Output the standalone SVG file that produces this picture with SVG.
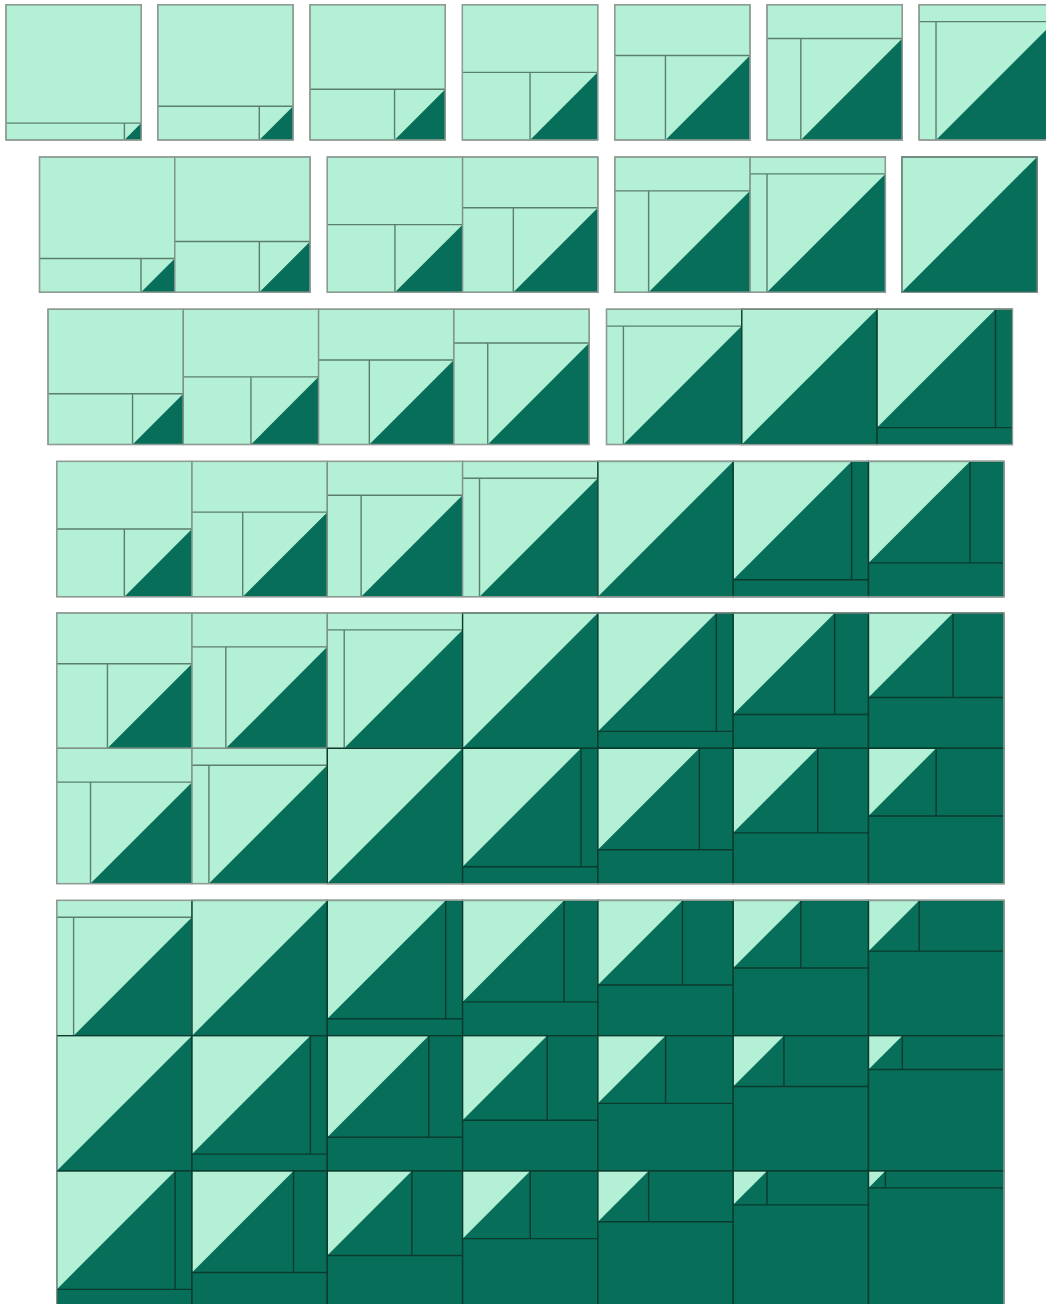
<svg xmlns="http://www.w3.org/2000/svg" width="1046" height="1304" viewBox="0 0 1046 1304">
<style>
.L{fill:#b4f0d6}
.D{fill:#076f59}
.ll{fill:none;stroke:#5a7f6c;stroke-width:1.4}
.dl{fill:none;stroke:#0a3b2e;stroke-width:1.4}
.lb{fill:none;stroke:#7f9288;stroke-width:1.4}
.go{fill:none;stroke:#8f9c95;stroke-width:1.2}
</style>
<defs>
<g id="k1"><rect class="L" width="135.3" height="135.3"/><path class="D" d="M118.39 135.3L135.3 118.39V135.3Z"/><path class="ll" d="M0 118.39H135.3M118.39 118.39V135.3"/><rect class="lb" width="135.3" height="135.3"/></g>
<g id="k2"><rect class="L" width="135.3" height="135.3"/><path class="D" d="M101.48 135.3L135.3 101.48V135.3Z"/><path class="ll" d="M0 101.48H135.3M101.48 101.48V135.3"/><rect class="lb" width="135.3" height="135.3"/></g>
<g id="k3"><rect class="L" width="135.3" height="135.3"/><path class="D" d="M84.56 135.3L135.3 84.56V135.3Z"/><path class="ll" d="M0 84.56H135.3M84.56 84.56V135.3"/><rect class="lb" width="135.3" height="135.3"/></g>
<g id="k4"><rect class="L" width="135.3" height="135.3"/><path class="D" d="M67.65 135.3L135.3 67.65V135.3Z"/><path class="ll" d="M0 67.65H135.3M67.65 67.65V135.3"/><rect class="lb" width="135.3" height="135.3"/></g>
<g id="k5"><rect class="L" width="135.3" height="135.3"/><path class="D" d="M50.74 135.3L135.3 50.74V135.3Z"/><path class="ll" d="M0 50.74H135.3M50.74 50.74V135.3"/><rect class="lb" width="135.3" height="135.3"/></g>
<g id="k6"><rect class="L" width="135.3" height="135.3"/><path class="D" d="M33.83 135.3L135.3 33.83V135.3Z"/><path class="ll" d="M0 33.83H135.3M33.83 33.83V135.3"/><rect class="lb" width="135.3" height="135.3"/></g>
<g id="k7"><rect class="L" width="135.3" height="135.3"/><path class="D" d="M16.91 135.3L135.3 16.91V135.3Z"/><path class="ll" d="M0 16.91H135.3M16.91 16.91V135.3"/><rect class="lb" width="135.3" height="135.3"/></g>
<g id="k8"><rect class="L" width="135.3" height="135.3"/><path class="D" d="M0 135.3L135.3 0V135.3Z"/><rect class="dl" width="135.3" height="135.3"/></g>
<g id="k9"><rect class="D" width="135.3" height="135.3"/><path class="L" d="M0 0H118.39L0 118.39Z"/><path class="dl" d="M118.39 0V118.39M0 118.39H135.3"/><rect class="dl" width="135.3" height="135.3"/></g>
<g id="k10"><rect class="D" width="135.3" height="135.3"/><path class="L" d="M0 0H101.48L0 101.48Z"/><path class="dl" d="M101.48 0V101.48M0 101.48H135.3"/><rect class="dl" width="135.3" height="135.3"/></g>
<g id="k11"><rect class="D" width="135.3" height="135.3"/><path class="L" d="M0 0H84.56L0 84.56Z"/><path class="dl" d="M84.56 0V84.56M0 84.56H135.3"/><rect class="dl" width="135.3" height="135.3"/></g>
<g id="k12"><rect class="D" width="135.3" height="135.3"/><path class="L" d="M0 0H67.65L0 67.65Z"/><path class="dl" d="M67.65 0V67.65M0 67.65H135.3"/><rect class="dl" width="135.3" height="135.3"/></g>
<g id="k13"><rect class="D" width="135.3" height="135.3"/><path class="L" d="M0 0H50.74L0 50.74Z"/><path class="dl" d="M50.74 0V50.74M0 50.74H135.3"/><rect class="dl" width="135.3" height="135.3"/></g>
<g id="k14"><rect class="D" width="135.3" height="135.3"/><path class="L" d="M0 0H33.83L0 33.83Z"/><path class="dl" d="M33.83 0V33.83M0 33.83H135.3"/><rect class="dl" width="135.3" height="135.3"/></g>
<g id="k15"><rect class="D" width="135.3" height="135.3"/><path class="L" d="M0 0H16.91L0 16.91Z"/><path class="dl" d="M16.91 0V16.91M0 16.91H135.3"/><rect class="dl" width="135.3" height="135.3"/></g>
</defs>
<rect width="1046" height="1304" fill="#ffffff"/>

<g id="row1">
<g id="r1-t1"><use href="#k1" x="6" y="4.7"/><rect class="go" x="6" y="4.7" width="135.3" height="135.3"/></g>
<g id="r1-t2"><use href="#k2" x="157.8" y="4.7"/><rect class="go" x="157.8" y="4.7" width="135.3" height="135.3"/></g>
<g id="r1-t3"><use href="#k3" x="310" y="4.7"/><rect class="go" x="310" y="4.7" width="135.3" height="135.3"/></g>
<g id="r1-t4"><use href="#k4" x="462.4" y="4.7"/><rect class="go" x="462.4" y="4.7" width="135.3" height="135.3"/></g>
<g id="r1-t5"><use href="#k5" x="614.7" y="4.7"/><rect class="go" x="614.7" y="4.7" width="135.3" height="135.3"/></g>
<g id="r1-t6"><use href="#k6" x="767" y="4.7"/><rect class="go" x="767" y="4.7" width="135.3" height="135.3"/></g>
<g id="r1-t7"><use href="#k7" x="919.1" y="4.7"/><rect class="go" x="919.1" y="4.7" width="135.3" height="135.3"/></g>
</g>

<g id="row2">
<g id="r2-g1"><use href="#k2" x="39.5" y="157"/><use href="#k3" x="174.8" y="157"/><rect class="go" x="39.5" y="157" width="270.6" height="135.3"/></g>
<g id="r2-g2"><use href="#k4" x="327.3" y="157"/><use href="#k5" x="462.6" y="157"/><rect class="go" x="327.3" y="157" width="270.6" height="135.3"/></g>
<g id="r2-g3"><use href="#k6" x="614.8" y="157"/><use href="#k7" x="750.1" y="157"/><rect class="go" x="614.8" y="157" width="270.6" height="135.3"/></g>
<g id="r2-g4"><use href="#k8" x="901.8" y="157"/><rect class="go" x="901.8" y="157" width="135.3" height="135.3"/></g>
</g>

<g id="row3">
<g id="r3-g1"><use href="#k3" x="48" y="309.2"/><use href="#k4" x="183.3" y="309.2"/><use href="#k5" x="318.6" y="309.2"/><use href="#k6" x="453.9" y="309.2"/><rect class="go" x="48" y="309.2" width="541.2" height="135.3"/></g>
<g id="r3-g2"><use href="#k7" x="606.5" y="309.2"/><use href="#k8" x="741.8" y="309.2"/><use href="#k9" x="877.1" y="309.2"/><rect class="go" x="606.5" y="309.2" width="405.9" height="135.3"/></g>
</g>

<g id="row4">
<use href="#k4" x="56.7" y="461.4"/><use href="#k5" x="192" y="461.4"/><use href="#k6" x="327.3" y="461.4"/><use href="#k7" x="462.6" y="461.4"/><use href="#k8" x="597.9" y="461.4"/><use href="#k9" x="733.2" y="461.4"/><use href="#k10" x="868.5" y="461.4"/>
<rect class="go" x="56.7" y="461.4" width="947.1" height="135.3"/>
</g>

<g id="row5">
<use href="#k5" x="56.7" y="613"/><use href="#k6" x="192" y="613"/><use href="#k7" x="327.3" y="613"/><use href="#k8" x="462.6" y="613"/><use href="#k9" x="597.9" y="613"/><use href="#k10" x="733.2" y="613"/><use href="#k11" x="868.5" y="613"/>
<use href="#k6" x="56.7" y="748.3"/><use href="#k7" x="192" y="748.3"/><use href="#k8" x="327.3" y="748.3"/><use href="#k9" x="462.6" y="748.3"/><use href="#k10" x="597.9" y="748.3"/><use href="#k11" x="733.2" y="748.3"/><use href="#k12" x="868.5" y="748.3"/>
<rect class="go" x="56.7" y="613" width="947.1" height="270.6"/>
</g>

<g id="row6">
<use href="#k7" x="56.7" y="900.4"/><use href="#k8" x="192" y="900.4"/><use href="#k9" x="327.3" y="900.4"/><use href="#k10" x="462.6" y="900.4"/><use href="#k11" x="597.9" y="900.4"/><use href="#k12" x="733.2" y="900.4"/><use href="#k13" x="868.5" y="900.4"/>
<use href="#k8" x="56.7" y="1035.7"/><use href="#k9" x="192" y="1035.7"/><use href="#k10" x="327.3" y="1035.7"/><use href="#k11" x="462.6" y="1035.7"/><use href="#k12" x="597.9" y="1035.7"/><use href="#k13" x="733.2" y="1035.7"/><use href="#k14" x="868.5" y="1035.7"/>
<use href="#k9" x="56.7" y="1171"/><use href="#k10" x="192" y="1171"/><use href="#k11" x="327.3" y="1171"/><use href="#k12" x="462.6" y="1171"/><use href="#k13" x="597.9" y="1171"/><use href="#k14" x="733.2" y="1171"/><use href="#k15" x="868.5" y="1171"/>
<rect class="go" x="56.7" y="900.4" width="947.1" height="405.9"/>
</g>
</svg>
